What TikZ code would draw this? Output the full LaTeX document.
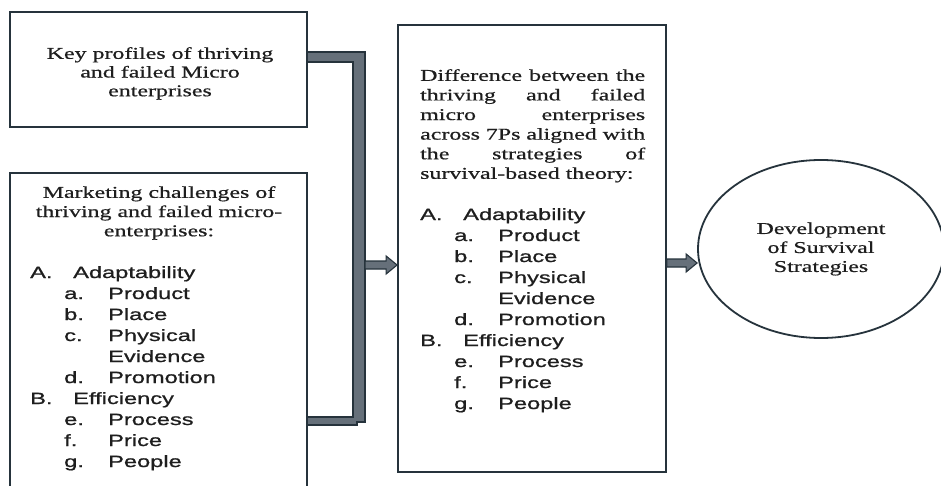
\documentclass[tikz,border=0pt]{standalone}
\usepackage{fontspec}
\setmainfont{Liberation Serif}[FakeStretch=1.45,FakeBold=0.6]
\newfontfamily\sansw{Liberation Sans}[FakeStretch=1.45,FakeBold=1]
\usetikzlibrary{shapes.geometric,calc}
\definecolor{lineC}{HTML}{26333C}
\definecolor{barC}{HTML}{66707A}
\definecolor{txtC}{HTML}{1E1E1E}
\newcommand\sevenps{%
\makebox[43pt][l]{A.}Adaptability\\
\hspace*{34pt}\makebox[44pt][l]{a.}Product\\
\hspace*{34pt}\makebox[44pt][l]{b.}Place\\
\hspace*{34pt}\makebox[44pt][l]{c.}Physical\\
\hspace*{78pt}Evidence\\
\hspace*{34pt}\makebox[44pt][l]{d.}Promotion\\
\makebox[43pt][l]{B.}Efficiency\\
\hspace*{34pt}\makebox[44pt][l]{e.}Process\\
\hspace*{34pt}\makebox[44pt][l]{f.}Price\\
\hspace*{34pt}\makebox[44pt][l]{g.}People}
\newcommand\blockarr[2]{%
\draw[barstyle] ($(#1)+(0,-4)$) -- ($(#2)+(-11,-4)$) -- ($(#2)+(-11,-9)$) -- (#2)
  -- ($(#2)+(-11,9)$) -- ($(#2)+(-11,4)$) -- ($(#1)+(0,4)$) -- cycle;}
\begin{document}
\begin{tikzpicture}[x=1pt,y=-1pt,
  box/.style={draw=lineC,line width=1.8pt,rectangle,inner sep=0pt,fill=white},
  barstyle/.style={draw=lineC,fill=barC,line width=1.1pt,line join=miter},
  sertext/.style={inner sep=0pt,font=\fontsize{16.5}{18.7}\selectfont,text=txtC},
  sanstext/.style={inner sep=0pt,font=\sansw\fontsize{16.3}{21}\selectfont,text=txtC,align=left}]
\useasboundingbox (0,0) rectangle (941,486);
\fill[white] (0,0) rectangle (941,486);
\begin{scope}
\clip (0,0) rectangle (941,486);
% boxes
\node[box,minimum width=297pt,minimum height=115pt] (kp) at (158.5,69.5) {};
\node[box,minimum width=297pt,minimum height=318pt] (mc) at (158.5,332) {};
\node[box,minimum width=268pt,minimum height=447pt] (mid) at (532,248.5) {};
\node[draw=lineC,line width=1.8pt,ellipse,minimum width=246pt,minimum height=178pt,inner sep=0pt,
  align=center,font=\fontsize{16.5}{19}\selectfont,text=txtC] (dev) at (821,249)
  {Development\\of Survival\\Strategies};
% texts
\node[sertext,align=center,anchor=north] (kpt) at (160,47)
  {Key profiles of thriving\\and failed Micro\\enterprises};
\node[sertext,align=center,anchor=north,font=\fontsize{16.5}{19.2}\selectfont] (mct) at (159,186)
  {Marketing challenges of\\thriving and failed micro-\\enterprises:};
\node[sanstext,anchor=north west] (mcl) at (30,266) {\sevenps};
\node[sertext,align=left,anchor=north west,font=\fontsize{16.5}{19.6}\selectfont] (midt) at (420,69)
  {\makebox[225pt][s]{Difference between the}\\
   \makebox[225pt][s]{thriving and failed}\\
   \makebox[225pt][s]{micro enterprises}\\
   \makebox[225pt][s]{across 7Ps aligned with}\\
   \makebox[225pt][s]{the strategies of}\\
   survival-based theory:};
\node[sanstext,anchor=north west] (midl) at (420,208) {\sevenps};
% bracket
\coordinate (t1) at (kp.east |- 0,52);
\coordinate (b1) at (mc.east |- 0,417);
\draw[barstyle] (t1) -- (365,52) -- (365,422) -- (357,422) -- (357,425) -- ($(b1)+(0,8)$)
  -- (b1) -- (353,417) -- (353,62) -- ($(t1)+(0,10)$) -- cycle;
\draw[lineC,line width=1.1pt] (353,62) -- (353,417);
% arrows
\coordinate (a1s) at (365,265);
\coordinate (a1e) at (mid.west |- a1s);
\blockarr{a1s}{a1e}
\coordinate (a2s) at (mid.east |- 0,263);
\coordinate (a2e) at (dev.west |- a2s);
\blockarr{a2s}{a2e}
\end{scope}
\end{tikzpicture}
\end{document}
